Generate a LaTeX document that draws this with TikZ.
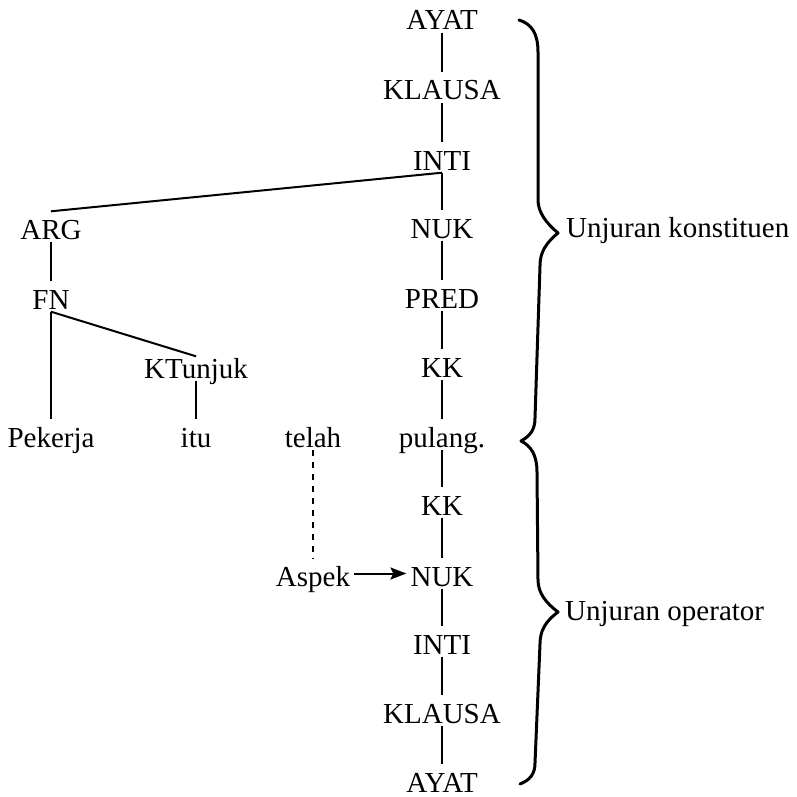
\documentclass[tikz,border=0pt]{standalone}
\usepackage{fontspec}
\setmainfont{Liberation Serif}
\usetikzlibrary{arrows.meta}
\begin{document}
\begin{tikzpicture}[x=1pt,y=1pt,
  lbl/.style={inner xsep=4pt,inner ysep=2.5pt,text height=25pt,text depth=0pt,anchor=base,
    font=\fontsize{29}{34}\selectfont},
  edge/.style={line width=2pt},
  dotted link/.style={line width=2pt,dash pattern=on 6pt off 6pt},
  aspect arrow/.style={line width=2pt,-{Stealth[length=16pt,width=12pt,inset=3pt]}},
  bracepath/.style={line width=3pt,line cap=round,line join=round},
  side/.style={anchor=base west,inner sep=0pt,font=\fontsize{29}{34}\selectfont}]
\useasboundingbox (0,0) rectangle (796,-797);

% main spine: constituent projection above, operator projection below
\node[lbl] (ayat1)   at (442,-30)  {AYAT};
\node[lbl] (klausa1) at (442,-100) {KLAUSA};
\node[lbl] (inti1)   at (442,-170) {INTI};
\node[lbl] (nuk1)    at (442,-238) {NUK};
\node[lbl] (pred)    at (442,-308) {PRED};
\node[lbl] (kk1)     at (442,-377) {KK};
\node[lbl] (pulang)  at (442,-447) {pulang.};
\node[lbl] (kk2)     at (442,-515) {KK};
\node[lbl] (nuk2)    at (442,-586) {NUK};
\node[lbl] (inti2)   at (442,-654) {INTI};
\node[lbl] (klausa2) at (442,-723) {KLAUSA};
\node[lbl] (ayat2)   at (442,-792) {AYAT};

% argument branch
\node[lbl] (arg)     at (51,-239)  {ARG};
\node[lbl] (fn)      at (51,-309)  {FN};
\node[lbl] (ktunjuk) at (196,-378) {KTunjuk};
\node[lbl] (pekerja) at (51,-447)  {Pekerja};
\node[lbl] (itu)     at (196,-447) {itu};

% aspect operator
\node[lbl] (telah)   at (313,-447) {telah};
\node[lbl] (aspek)   at (313,-586) {Aspek};

% tree edges
\draw[edge] (ayat1.south) -- (klausa1.north);
\draw[edge] (klausa1.south) -- (inti1.north);
\draw[edge] (inti1.south) -- (nuk1.north);
\draw[edge] (nuk1.south) -- (pred.north);
\draw[edge] (pred.south) -- (kk1.north);
\draw[edge] (kk1.south) -- (pulang.north);
\draw[edge] (pulang.south) -- (kk2.north);
\draw[edge] (kk2.south) -- (nuk2.north);
\draw[edge] (nuk2.south) -- (inti2.north);
\draw[edge] (inti2.south) -- (klausa2.north);
\draw[edge] (klausa2.south) -- (ayat2.north);

\draw[edge] (inti1.south) -- (arg.north);
\draw[edge] (arg.south) -- (fn.north);
\draw[edge] (fn.south) -- (pekerja.north);
\draw[edge] (fn.south) -- ([yshift=-6pt]ktunjuk.north);
\draw[edge] (ktunjuk.south) -- (itu.north);

\draw[dotted link] (telah.south) -- (aspek.north);
\draw[aspect arrow] (aspek.east) -- (nuk2.west);

% braces
\draw[bracepath] (519,-20) .. controls (532,-24) and (538,-34) .. (538,-52)
  -- (538,-200) .. controls (538,-212) and (546,-223) .. (558,-233)
  .. controls (546,-243) and (540,-252) .. (540,-266)
  -- (535,-418) .. controls (535,-430) and (530,-436) .. (521,-441);
\draw[bracepath] (521,-441) .. controls (531,-446) and (537,-455) .. (537,-472)
  -- (538,-580) .. controls (538,-593) and (546,-603) .. (558,-612)
  .. controls (546,-621) and (540,-630) .. (540,-644)
  -- (535,-763) .. controls (535,-774) and (530,-780) .. (520,-784);

\node[side] (konst) at (566,-237) {Unjuran konstituen};
\node[side] (oper)  at (565,-620) {Unjuran operator};
\end{tikzpicture}
\end{document}
